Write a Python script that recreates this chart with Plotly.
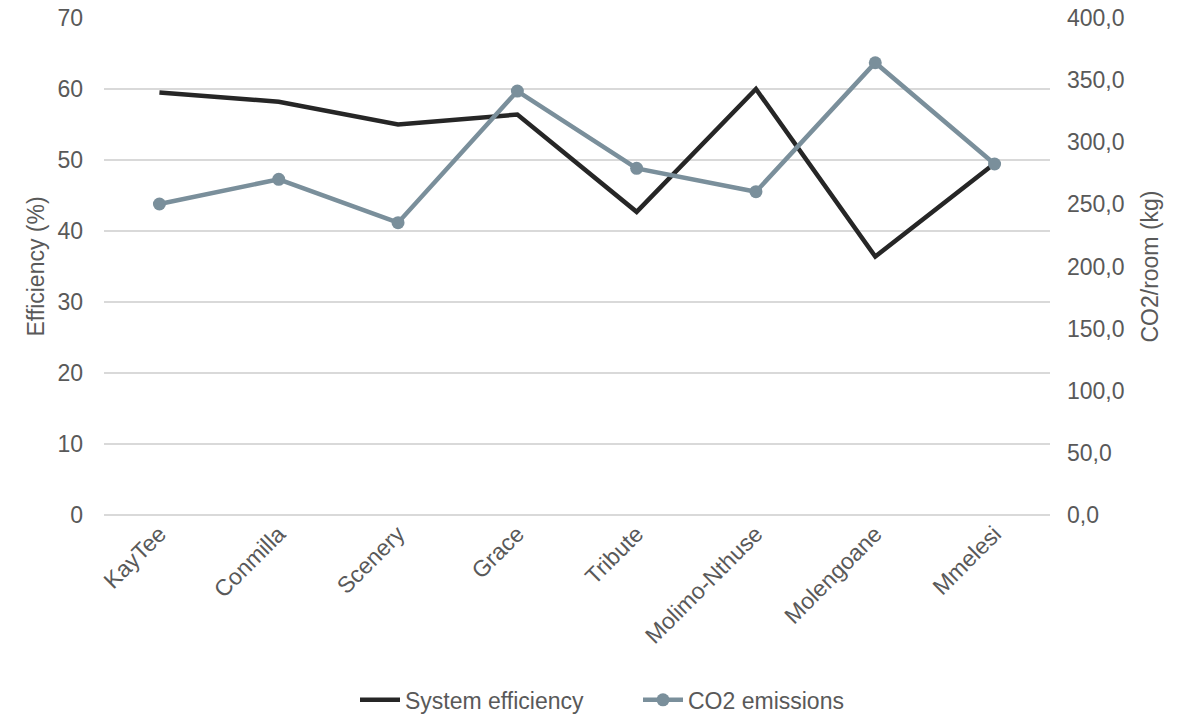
import plotly.graph_objects as go

sites = ["KayTee", "Conmilla", "Scenery", "Grace", "Tribute",
         "Molimo-Nthuse", "Molengoane", "Mmelesi"]
efficiency = [59.5, 58.2, 55.0, 56.4, 42.7, 60.0, 36.4, 49.5]
co2_per_room = [250.3, 270.2, 235.3, 341.2, 279.0, 260.2, 364.0, 282.5]

left_ticks = [0, 10, 20, 30, 40, 50, 60, 70]
right_ticks = [0, 50, 100, 150, 200, 250, 300, 350, 400]
right_tick_text = [f"{v:.1f}".replace(".", ",") for v in right_ticks]

text_color = "#595959"
grid_color = "#d9d9d9"
font_family = "Liberation Sans, Arial, sans-serif"
fs = 23

fig = go.Figure()
fig.add_trace(go.Scatter(
    x=sites, y=efficiency, name="System efficiency", mode="lines",
    line=dict(color="#262626", width=4.5), yaxis="y",
))
fig.add_trace(go.Scatter(
    x=sites, y=co2_per_room, name="CO2 emissions", mode="lines+markers",
    line=dict(color="#7a8f9b", width=4.5),
    marker=dict(color="#7a8f9b", size=13), yaxis="y2",
))

fig.update_layout(
    width=1186, height=716,
    margin=dict(l=104, r=136, t=18, b=201, autoexpand=False),
    paper_bgcolor="white", plot_bgcolor="white",
    font=dict(family=font_family, size=fs, color=text_color),
    showlegend=True,
    legend=dict(orientation="h", x=(355 - 104) / 946, xanchor="left",
                y=-0.372, yanchor="middle",
                font=dict(size=fs, color=text_color), itemwidth=40,
                entrywidth=228, entrywidthmode="pixels"),
    xaxis=dict(
        type="category", tickangle=-45, showgrid=False, zeroline=False,
        showline=False, ticks="", automargin=False,
        tickfont=dict(size=fs, color=text_color),
    ),
    yaxis=dict(
        range=[0, 70], tickvals=left_ticks, showgrid=True, gridcolor=grid_color,
        gridwidth=1.5, zeroline=True, zerolinecolor=grid_color, zerolinewidth=1.5,
        showline=False, ticks="", ticklabelstandoff=20, automargin=False,
        title=dict(text="Efficiency (%)", font=dict(size=fs, color=text_color), standoff=6),
        tickfont=dict(size=fs, color=text_color),
    ),
    yaxis2=dict(
        range=[0, 400], tickvals=right_ticks, ticktext=right_tick_text,
        overlaying="y", side="right", showgrid=False, zeroline=False,
        showline=False, ticks="", ticklabelstandoff=16, automargin=False,
        title=dict(text="CO2/room (kg)", font=dict(size=fs, color=text_color), standoff=18),
        tickfont=dict(size=fs, color=text_color),
    ),
)

fig.write_html("out.html")
